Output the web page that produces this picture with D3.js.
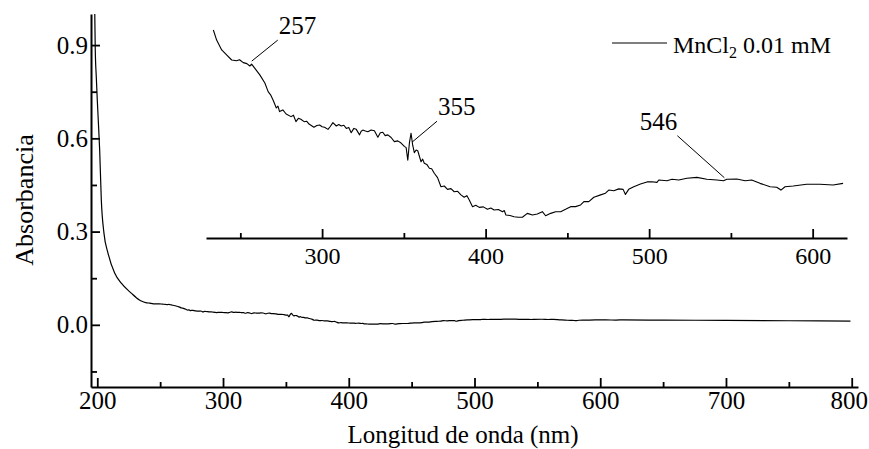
<!DOCTYPE html>
<!-- UV-vis spectrum of MnCl2 0.01 mM, main plot plus zoomed inset -->
<html>
  <head>
    <script src="https://d3js.org/d3.v7.min.js" charset="utf-8"></script>

    <style type="text/css">
    body {
      margin: 0;
      background: #fff;
    }
    svg text {
      font-family: "Liberation Serif", "Times New Roman", serif;
      fill: #000;
    }
    .axis path, .axis line {
      stroke: #000;
    }
    </style>
  </head>

  <body>
  <script type="text/javascript">

  // spectrum (nm, absorbance)
  var wavelength = [
    197.5, 198.0, 198.4, 199.2, 200.0, 201.0, 201.9, 203.2, 205.3, 208.5, 213.8, 219.1, 227.0,
    233.5, 235.5, 238.6, 241.6, 244.7, 247.7, 249.5, 251.8, 254.0, 255.8, 256.9, 258.9, 261.9,
    265.0, 267.0, 268.5, 270.0, 272.0, 273.0, 274.0, 276.0, 278.0, 281.0, 282.5, 284.0, 285.5,
    287.0, 289.0, 290.5, 292.0, 295.0, 296.8, 298.5, 300.0, 301.5, 303.6, 305.0, 306.6, 308.7,
    310.2, 311.7, 313.3, 314.8, 316.3, 317.8, 319.4, 320.9, 322.9, 323.9, 324.9, 326.5, 328.0,
    330.0, 332.0, 334.1, 335.6, 337.1, 338.6, 340.2, 342.2, 344.2, 346.3, 348.3, 350.3, 351.4,
    352.4, 353.4, 354.4, 355.4, 356.4, 357.5, 358.5, 360.5, 361.5, 362.5, 364.0, 365.6, 367.0,
    368.6, 370.6, 372.7, 374.7, 376.7, 378.8, 380.8, 382.9, 384.9, 386.9, 388.5, 390.0, 392.0,
    394.0, 396.1, 398.6, 401.1, 403.2, 405.2, 407.8, 410.3, 411.4, 412.4, 414.9, 417.4, 420.0,
    422.5, 425.5, 428.6, 431.6, 434.7, 436.7, 439.8, 442.8, 445.9, 448.9, 452.0, 455.0, 458.1,
    460.1, 463.1, 466.2, 470.3, 473.3, 475.3, 478.4, 481.4, 484.1, 485.5, 487.5, 490.6, 494.7,
    498.7, 501.8, 504.8, 505.9, 510.9, 514.0, 518.1, 523.1, 529.2, 535.3, 541.4, 545.5, 547.5,
    553.6, 558.7, 562.7, 567.8, 574.0, 578.0, 580.6, 583.1, 588.1, 596.3, 604.4, 612.5, 618.6,
    650, 700, 750, 799
  ];
  var absorbance = [
    1.10, 1.00, 0.884, 0.798, 0.723, 0.640, 0.562, 0.402, 0.295, 0.231, 0.167, 0.134, 0.102,
    0.0800, 0.0758, 0.0717, 0.0696, 0.0675, 0.0672, 0.0676, 0.0664, 0.0660, 0.0650, 0.0658, 0.0640, 0.0613,
    0.0579, 0.0543, 0.0530, 0.0508, 0.0475, 0.0483, 0.0460, 0.0467, 0.0450, 0.0439, 0.0445, 0.0418, 0.0432,
    0.0428, 0.0418, 0.0420, 0.0408, 0.0395, 0.0402, 0.0404, 0.0397, 0.0395, 0.0386, 0.0398, 0.0414, 0.0400,
    0.0406, 0.0400, 0.0403, 0.0390, 0.0394, 0.0372, 0.0390, 0.0386, 0.0363, 0.0378, 0.0383, 0.0379, 0.0376,
    0.0383, 0.0380, 0.0353, 0.0372, 0.0374, 0.0360, 0.0363, 0.0352, 0.0335, 0.0338, 0.0329, 0.0315, 0.0310,
    0.0258, 0.0330, 0.0370, 0.0320, 0.0289, 0.0300, 0.0297, 0.0251, 0.0262, 0.0245, 0.0240, 0.0224, 0.0222,
    0.0203, 0.0185, 0.0147, 0.0150, 0.0136, 0.0139, 0.0126, 0.0128, 0.0113, 0.0103, 0.0110, 0.0092, 0.0064,
    0.0070, 0.0061, 0.0063, 0.0053, 0.0058, 0.0050, 0.0052, 0.0043, 0.0048, 0.0029, 0.0027, 0.0022, 0.0020,
    0.0020, 0.0036, 0.0029, 0.0033, 0.0043, 0.0026, 0.0036, 0.0043, 0.0043, 0.0053, 0.0064, 0.0064, 0.0071,
    0.0085, 0.0085, 0.0103, 0.0113, 0.0120, 0.0133, 0.0130, 0.0138, 0.0136, 0.0115, 0.0136, 0.0147, 0.0158,
    0.0167, 0.0168, 0.0165, 0.0175, 0.0172, 0.0178, 0.0175, 0.0182, 0.0186, 0.0178, 0.0175, 0.0172, 0.0178,
    0.0179, 0.0172, 0.0175, 0.0161, 0.0147, 0.0145, 0.0133, 0.0147, 0.0150, 0.0157, 0.0157, 0.0154, 0.0161,
    0.0150, 0.0145, 0.0132, 0.0120
  ];

  var xTicks = [200, 300, 400, 500, 600, 700, 800];
  var xMinor = [250, 350, 450, 550, 650, 750];
  var yTicks = [0.0, 0.3, 0.6, 0.9];
  var yMinor = [-0.15, 0.15, 0.45, 0.75];
  var insetTicks = [300, 400, 500, 600];
  var insetMinor = [250, 350, 450, 550];
  var peaks = [257, 355, 546];
  var peakOffsets = [[26, -21, "start"], [25, -21, "start"], [-47, -42, "end"]];  // leader direction

  var serif = "'Liberation Serif', 'Times New Roman', serif";

  var spectrum = wavelength.map(function(w, i) { return {nm: w, a: absorbance[i]}; });
  var insetData = spectrum.filter(function(d) { return d.nm >= 233 && d.nm <= 620; });

  var svg = d3.select("body").append("svg")
    .attr("width", 869)
    .attr("height", 449);

  /* Main plot */
  var x = d3.scaleLinear().domain([195, 805]).range([91, 858]);
  var y = d3.scaleLinear().domain([-0.2, 1.0]).range([387, 14]);

  svg.append("clipPath").attr("id", "plot-clip")
    .append("rect")
    .attr("x", x.range()[0]).attr("y", y.range()[1])
    .attr("width", x.range()[1] - x.range()[0])
    .attr("height", y.range()[0] - y.range()[1]);

  var mainLine = d3.line()
    .x(function(d) { return x(d.nm); })
    .y(function(d) { return y(d.a); })
    .curve(d3.curveMonotoneX);

  svg.append("path")
    .datum(spectrum)
    .attr("clip-path", "url(#plot-clip)")
    .attr("d", mainLine)
    .attr("fill", "none")
    .attr("stroke", "#000")
    .attr("stroke-width", 1.2);

  // x axis, ticks pointing up into the plot
  svg.append("g")
    .attr("class", "axis")
    .attr("transform", "translate(0," + y.range()[0] + ")")
    .call(d3.axisBottom(x).tickValues(xTicks).tickSizeInner(-9).tickSizeOuter(0).tickPadding(4));
  svg.append("g")
    .attr("class", "axis")
    .attr("transform", "translate(0," + y.range()[0] + ")")
    .call(d3.axisBottom(x).tickValues(xMinor).tickSizeInner(-5).tickSizeOuter(0).tickFormat(""))
    .select(".domain").remove();

  svg.append("g")
    .attr("class", "axis")
    .attr("transform", "translate(" + x.range()[0] + ",0)")
    .call(d3.axisLeft(y).tickValues(yTicks).tickSizeInner(-9).tickSizeOuter(0).tickPadding(3)
      .tickFormat(d3.format(".1f")));
  svg.append("g")
    .attr("class", "axis")
    .attr("transform", "translate(" + x.range()[0] + ",0)")
    .call(d3.axisLeft(y).tickValues(yMinor).tickSizeInner(-6).tickSizeOuter(0).tickFormat(""))
    .select(".domain").remove();

  /* Inset: same spectrum, zoomed */
  var xi = d3.scaleLinear().domain([229, 621]).range([206, 847]);
  var yi = d3.scaleLinear().domain([0, 0.08]).range([222, 30]);

  svg.append("path")
    .datum(insetData)
    .attr("d", d3.line()
      .x(function(d) { return xi(d.nm); })
      .y(function(d) { return yi(d.a); }))
    .attr("fill", "none")
    .attr("stroke", "#000")
    .attr("stroke-width", 1.1)
    .attr("stroke-linejoin", "round");

  svg.append("g")
    .attr("class", "axis inset")
    .attr("transform", "translate(0,238)")
    .call(d3.axisBottom(xi).tickValues(insetTicks).tickSizeInner(-9).tickSizeOuter(0).tickPadding(9));
  svg.append("g")
    .attr("class", "axis")
    .attr("transform", "translate(0,238)")
    .call(d3.axisBottom(xi).tickValues(insetMinor).tickSizeInner(-5).tickSizeOuter(0).tickFormat(""))
    .select(".domain").remove();

  // axis styling shared by main and inset
  svg.selectAll(".axis")
    .attr("font-family", serif)
    .attr("font-size", 25);
  svg.selectAll(".axis text")
    .style("font-family", serif)
    .attr("font-size", 25);
  svg.selectAll(".inset text").attr("font-size", 24);
  svg.selectAll(".axis .domain").attr("stroke-width", 2);
  svg.selectAll(".axis .tick line").attr("stroke-width", 1.8);
  // last label sits against the right edge
  svg.selectAll(".axis .tick text")
    .filter(function(d) { return d === 800; })
    .attr("dx", -3);

  svg.append("text")
    .attr("transform", "translate(33,200) rotate(-90)")
    .attr("text-anchor", "middle")
    .attr("font-size", 26)
    .text("Absorbancia");

  svg.append("text")
    .attr("x", 463)
    .attr("y", 443)
    .attr("text-anchor", "middle")
    .attr("font-size", 25)
    .text("Longitud de onda (nm)");

  // peak labels with leader lines
  var peakG = svg.selectAll(".peak")
    .data(peaks)
    .enter().append("g")
    .attr("class", "peak");

  function peakPoint(nm) {
    var near = d3.least(insetData, function(d) { return Math.abs(d.nm - nm); });
    return [xi(nm), yi(near.a) - 3];
  }

  peakG.append("line")
    .attr("x1", function(d) { return peakPoint(d)[0]; })
    .attr("y1", function(d) { return peakPoint(d)[1]; })
    .attr("x2", function(d, i) { return peakPoint(d)[0] + peakOffsets[i][0]; })
    .attr("y2", function(d, i) { return peakPoint(d)[1] + peakOffsets[i][1]; })
    .attr("stroke", "#000")
    .attr("stroke-width", 1);

  peakG.append("text")
    .attr("x", function(d, i) { return peakPoint(d)[0] + peakOffsets[i][0] + (peakOffsets[i][2] == "start" ? 1 : 0); })
    .attr("y", function(d, i) { return peakPoint(d)[1] + peakOffsets[i][1] - 6; })
    .attr("text-anchor", function(d, i) { return peakOffsets[i][2]; })
    .attr("font-size", 25)
    .text(function(d) { return d; });

  /* Legend */
  svg.append("line")
    .attr("x1", 612).attr("x2", 667)
    .attr("y1", 43).attr("y2", 43)
    .attr("stroke", "#000")
    .attr("stroke-width", 1.1);

  var legendText = svg.append("text")
    .attr("x", 673)
    .attr("y", 53)
    .attr("font-size", 24);
  legendText.append("tspan").text("MnCl");
  legendText.append("tspan").attr("font-size", 16).attr("dy", 5).text("2");
  legendText.append("tspan").attr("dy", -5).text(" 0.01 mM");

  </script>
  </body>
</html>
